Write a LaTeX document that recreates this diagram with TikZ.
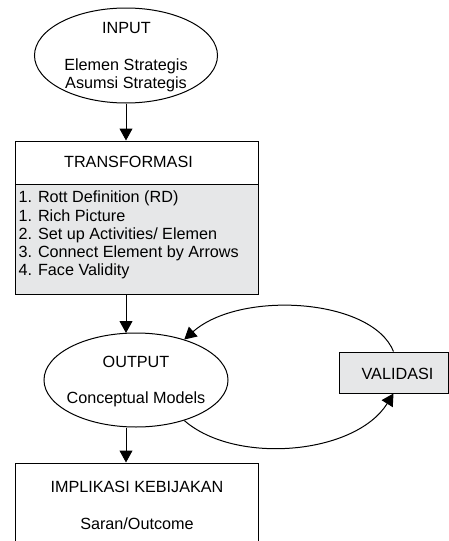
\documentclass[tikz,border=0pt]{standalone}
\usepackage{fontspec}
\setmainfont{Liberation Sans}
\usetikzlibrary{shapes.geometric,arrows.meta}
\definecolor{boxgray}{RGB}{230,231,232}
\begin{document}
\begin{tikzpicture}[x=1pt,y=-1pt,
  line width=1pt,
  txt/.style={font=\fontsize{16.2}{18.3}\selectfont, inner sep=0pt, anchor=base},
  ell/.style={draw, ellipse, inner sep=0pt},
  flow/.style={-{Triangle[length=12pt,width=13pt]}},
  rbox/.style={draw, rectangle, inner sep=0pt}]
\useasboundingbox (0,0) rectangle (449,541);
\clip (0,0) rectangle (449,541);
% nodes
\node[ell, minimum width=183pt, minimum height=95pt] (input) at (126,55.5) {};
\node[rbox, minimum width=243pt, minimum height=43pt] (trans) at (136.5,162.5) {};
\node[rbox, fill=boxgray, minimum width=243pt, minimum height=110pt] (steps) at (136.5,239) {};
\node[ell, minimum width=184pt, minimum height=94pt] (out) at (136,380) {};
\node[rbox, fill=boxgray, minimum width=109pt, minimum height=41pt] (val) at (393.5,372.5) {};
\node[rbox, minimum width=243pt, minimum height=90pt] (impl) at (136.5,508) {};
% texts
\node[txt] (tinput) at (126.5,33) {INPUT};
\node[txt] (tel1) at (126,70) {Elemen Strategis};
\node[txt] (tel2) at (126,88) {Asumsi Strategis};
\node[txt] (ttrans) at (128.5,167.5) {TRANSFORMASI};
\node[txt, anchor=north west, align=left] (tsteps) at (18,190.5) {1. Rott Definition (RD)\\1. Rich Picture\\2. Set up Activities/ Elemen\\3. Connect Element by Arrows\\4. Face Validity};
\node[txt] (tout) at (136,367) {OUTPUT};
\node[txt] (tcm) at (136,403.5) {Conceptual Models};
\node[txt] (tval) at (397.5,379) {VALIDASI};
\node[txt] (timpl) at (137,492) {IMPLIKASI KEBIJAKAN};
\node[txt] (tsaran) at (137,529) {Saran/Outcome};
% connectors
\draw[flow] (input.south) -- (input.south |- trans.north);
\draw[flow] (input.south |- steps.south) -- (126,333);
\draw[flow] (input.south |- out.south) -- (input.south |- impl.north);
\draw[flow] (val.north) .. controls (372,298) and (240,290) .. (out.40);
\draw[flow] (out.-40) .. controls (235,465) and (355,455) .. (val.south);
\end{tikzpicture}
\end{document}
